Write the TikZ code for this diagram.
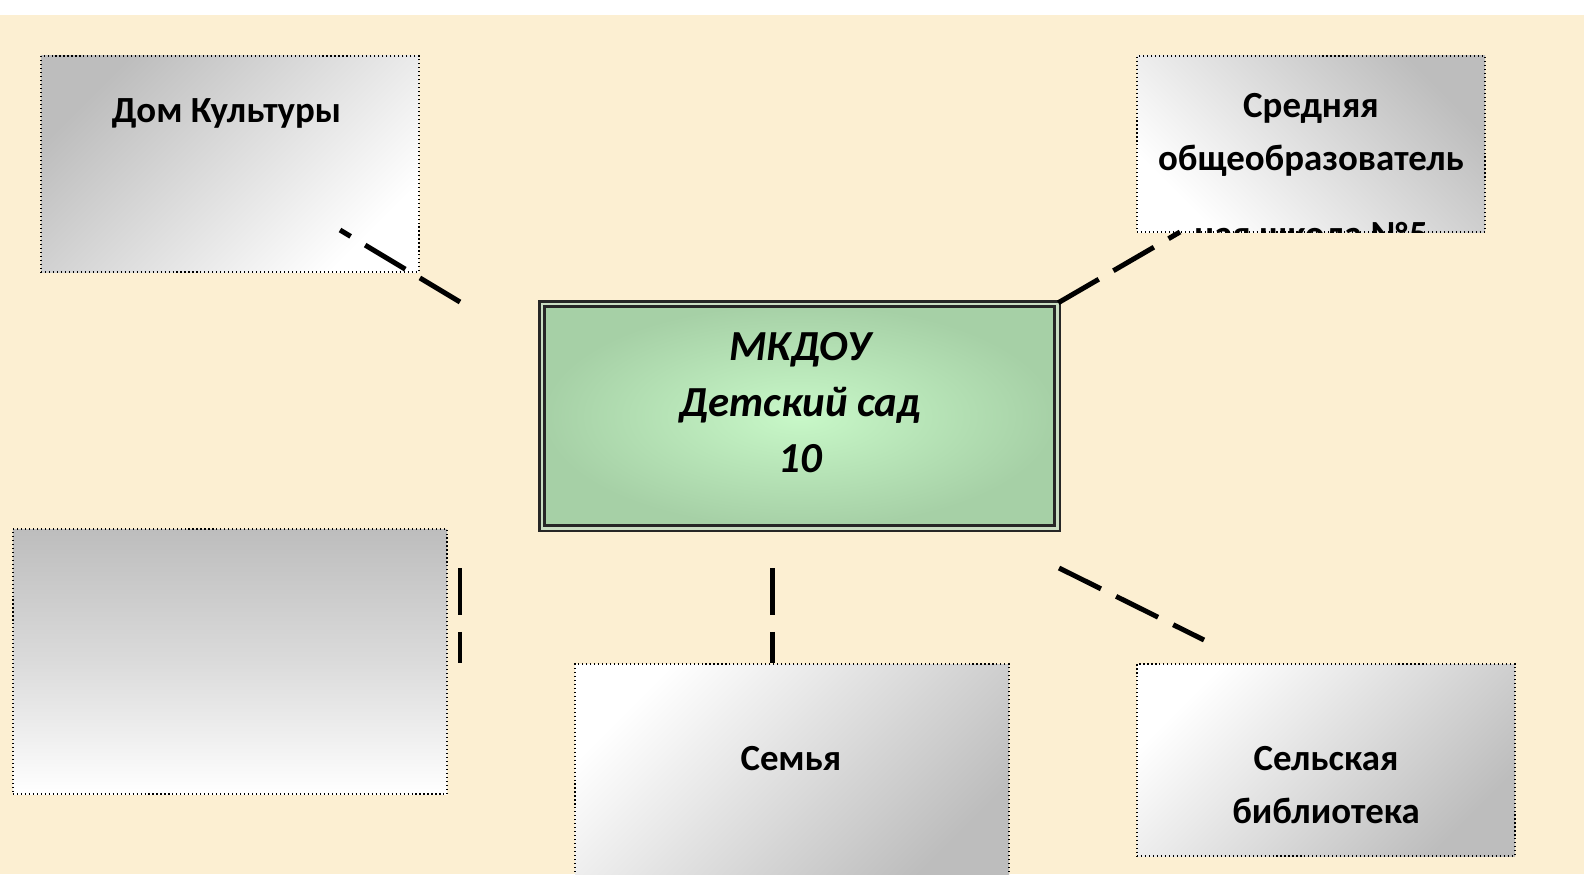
\documentclass[tikz,border=0pt]{standalone}
\usepackage{fontspec}
\setmainfont{Carlito}
\definecolor{bgbeige}{HTML}{FCEFD2}
\definecolor{boxgray}{HTML}{BDBDBD}
\definecolor{kgin}{HTML}{C8F8C8}
\definecolor{kgout}{HTML}{A6D0A6}
\definecolor{kgframe}{HTML}{C9DDC2}
\newcommand\partnerfont{\fontsize{37}{53}\selectfont\bfseries}
\newcommand\kgfont{\fontsize{43}{56}\selectfont\bfseries\itshape}
\tikzset{
  partner/.style={draw=black, line width=1.1pt, dash pattern=on 1.1pt off 2.9pt, inner sep=0pt},
  ptext/.style={font=\partnerfont, align=center, inner sep=0pt},
  link/.style={line width=5pt, dash pattern=on 47pt off 17pt},
}
\begin{document}
\begin{tikzpicture}[x=1bp,y=-1bp]
  \useasboundingbox (0,0) rectangle (1584,874);
  \fill[white] (0,0) rectangle (1584,874);
  \fill[bgbeige] (0,15) rectangle (1584,874);

  % partners
  \node[partner, minimum width=378bp, minimum height=216bp,
    top color=boxgray, bottom color=white, shading angle=45] (dk) at (230,164) {};
  \node[partner, minimum width=348bp, minimum height=176bp,
    top color=boxgray, bottom color=white, shading angle=-45] (sch) at (1311,144) {};
  \node[partner, minimum width=434bp, minimum height=265bp,
    top color=boxgray, bottom color=white, middle color=boxgray!55!white] (empty) at (230,661.5) {};
  \node[partner, minimum width=434bp, minimum height=216bp,
    top color=white, bottom color=boxgray, shading angle=45] (sem) at (792,772) {};
  \node[partner, minimum width=378bp, minimum height=192bp,
    top color=white, bottom color=boxgray, shading angle=45] (lib) at (1326,760) {};

  % kindergarten
  \node[draw=black!85, line width=2.5pt, double=kgframe, double distance=3pt,
    inner color=kgin, outer color=kgout,
    minimum width=515bp, minimum height=224bp] (kg) at (799.5,416) {};

  % texts (anchor=base is the last line)
  \node[ptext, anchor=base] (dk text) at (226.5,122) {Дом Культуры};
  \begin{scope}
    \clip (sch.south west) rectangle (sch.north east);
    \node[ptext, anchor=base] (sch text) at (1311,246) {Средняя\\общеобразователь\\[23pt]ная школа №5};
  \end{scope}
  \node[ptext, anchor=base] (sem text) at (791,770) {Семья};
  \node[ptext, anchor=base] (lib text) at (1326,823) {Сельская\\библиотека};
  \node[font=\kgfont, align=center, inner sep=0pt, anchor=base] (kg text) at (800,472) {МКДОУ\\Детский сад\\10};

  % links
  \coordinate (dk end) at (340,230);
  \coordinate (sch end) at (1180,232);
  \coordinate (empty top) at (460,568);
  \coordinate (empty end) at (460,663);
  \coordinate (sem top) at (772,568);
  \coordinate (lib end) at (1204,640);
  \draw[link] (460,302) -- (dk end);
  \draw[link] (kg.north east) -- (sch end);
  \draw[link] (empty top) -- (empty end);
  \draw[link] (sem top) -- (sem top |- sem.north);
  \draw[link] (1059,568) -- (lib end);
\end{tikzpicture}
\end{document}
